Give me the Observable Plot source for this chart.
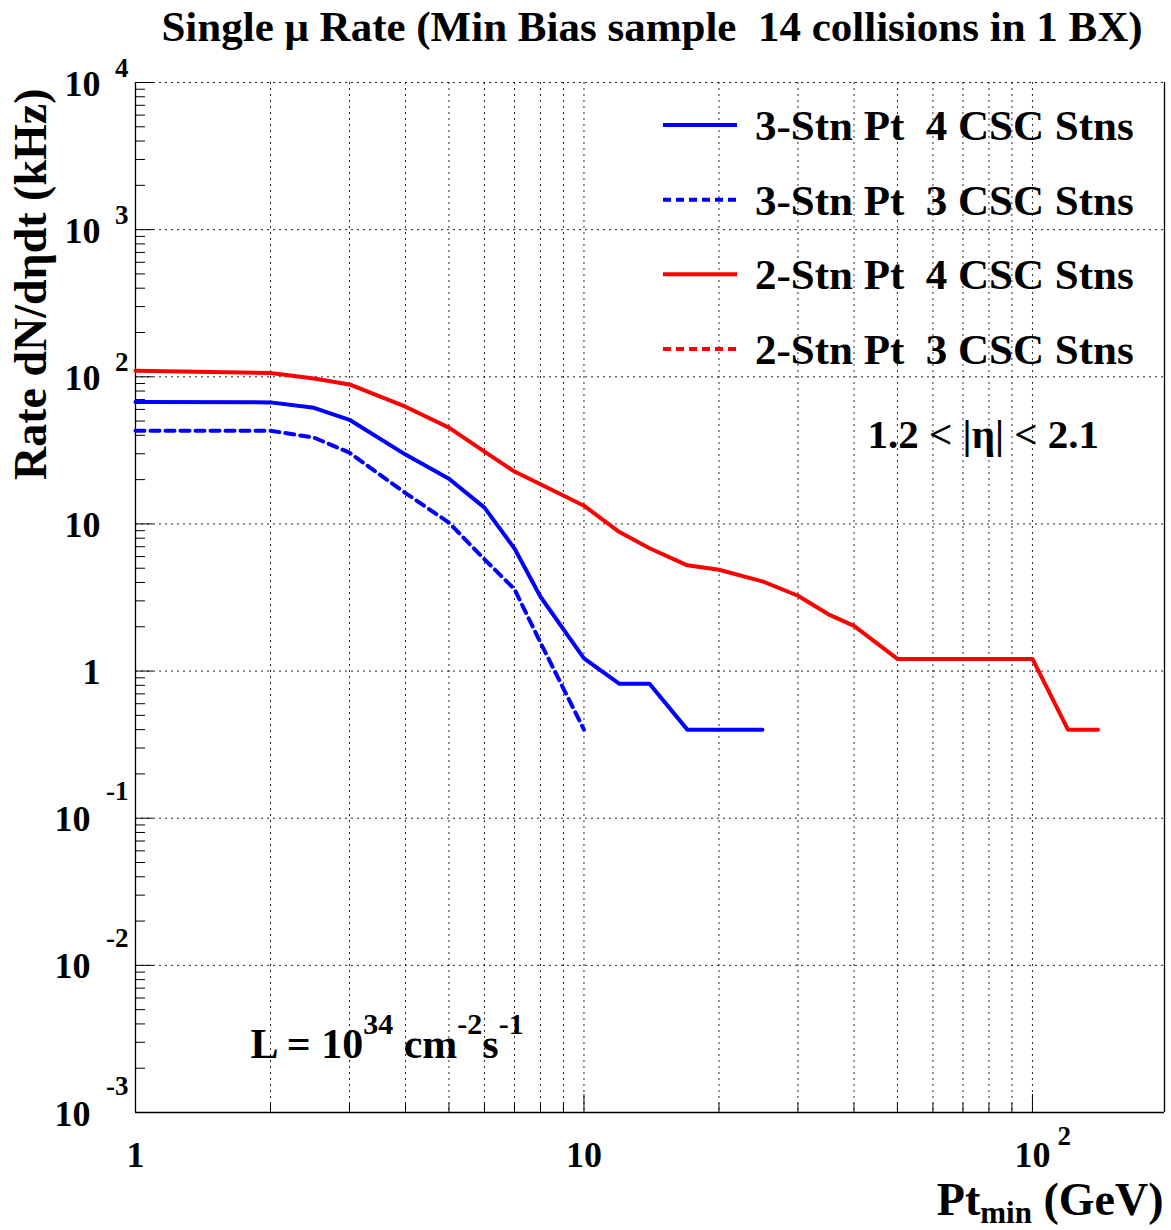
<!DOCTYPE html>
<html>
<head>
<meta charset="utf-8">
<script src="https://cdn.jsdelivr.net/npm/d3@7"></script>
<script src="https://cdn.jsdelivr.net/npm/@observablehq/plot@0.6"></script>
<style>
  body { margin: 0; background: #fff; }
  #chart { width: 1171px; height: 1230px; }
</style>
</head>
<body>
<div id="chart"></div>
<script>
// ---------------- data ----------------
const ptBlue4   = [1, 2, 2.5, 3, 4, 5, 6, 7, 8, 10, 12, 14, 17, 25];
const rateBlue4 = [67.5, 67, 61.5, 51, 29.6, 20.3, 12.9, 6.8, 3.2, 1.22, 0.82, 0.82, 0.40, 0.40];

const ptBlue3   = [1, 2, 2.5, 3, 4, 5, 6, 7, 8, 10];
const rateBlue3 = [43, 43, 38.6, 30.5, 16.2, 10.2, 5.75, 3.6, 1.56, 0.40];

const ptRed4    = [1, 2, 2.5, 3, 4, 5, 6, 7, 8, 10, 12, 14, 17, 20, 25, 30, 35, 40, 50, 100, 120, 140];
const rateRed4  = [110, 106, 97.5, 88.7, 62.6, 45.1, 31, 22.7, 18.6, 13.3, 8.8, 6.84, 5.23, 4.88, 4.07, 3.25, 2.44, 2.03, 1.21, 1.21, 0.40, 0.40];

const seriesNames = ["3-Stn Pt  4 CSC Stns", "3-Stn Pt  3 CSC Stns", "2-Stn Pt  4 CSC Stns", "2-Stn Pt  3 CSC Stns"];
const seriesColors = ["#0000ff", "#0000ff", "#ff0000", "#ff0000"];
const seriesDotted = [false, true, false, true];

const xDomain = [1, 197];
const yDomain = [1e-3, 1e4];

const xGrid = [2, 3, 4, 5, 6, 7, 8, 9, 10, 20, 30, 40, 50, 60, 70, 80, 90, 100];
const xMajorTicks = [1, 10, 100];
const xMinorTicks = [2, 3, 4, 5, 6, 7, 8, 9, 20, 30, 40, 50, 60, 70, 80, 90];
const yMajorTicks = [1e-3, 1e-2, 1e-1, 1, 10, 100, 1e3, 1e4];
const yGrid = [1e-2, 1e-1, 1, 10, 100, 1e3, 1e4];
const yMinorTicks = [];
for (const d of [1e-3, 1e-2, 1e-1, 1, 10, 100, 1e3]) for (const m of [2, 3, 4, 5, 6, 7, 8, 9]) yMinorTicks.push(d * m);

const xTickLabels = [
  {v: 1, base: "1", exp: ""},
  {v: 10, base: "10", exp: ""},
  {v: 100, base: "10", exp: "2"}
];
const yTickLabels = [
  {v: 1e4, base: "10", exp: "4"},
  {v: 1e3, base: "10", exp: "3"},
  {v: 1e2, base: "10", exp: "2"},
  {v: 10, base: "10", exp: ""},
  {v: 1, base: "1", exp: ""},
  {v: 1e-1, base: "10", exp: "-1"},
  {v: 1e-2, base: "10", exp: "-2"},
  {v: 1e-3, base: "10", exp: "-3"}
];

const titleText = "Single \u03bc Rate (Min Bias sample  14 collisions in 1 BX)";
const yTitle = "Rate dN/d\u03b7dt (kHz)";
const xTitle = "Pt_{min} (GeV)";
const etaText = "1.2 < |\u03b7| < 2.1";
const lumiText = "L = 10^{34} cm^{-2}s^{-1}";

// ---------------- layout ----------------
const W = 1171, H = 1230, mL = 135, mR = 7, mT = 82, mB = 118;
const plotW = W - mL - mR, plotH = H - mT - mB;
const FONT = "'Liberation Serif', 'Times New Roman', serif";

const toRows = (xs, ys) => xs.map((x, i) => ({pt: x, rate: ys[i]}));
const gridStyle = {stroke: "#000", strokeWidth: 1, strokeDasharray: "2,4", strokeOpacity: 0.85};
const tf = {fontFamily: FONT, fontWeight: "bold", fill: "#000", lineAnchor: "middle"};

const posExp = yTickLabels.filter(d => d.exp && d.exp[0] !== "-");
const negExp = yTickLabels.filter(d => d.exp && d.exp[0] === "-");
const noExp = yTickLabels.filter(d => !d.exp);

const chart = Plot.plot({
  width: W, height: H,
  marginLeft: mL, marginRight: mR, marginTop: mT, marginBottom: mB,
  style: {fontFamily: FONT, background: "#fff", overflow: "visible"},
  x: {type: "log", domain: xDomain, axis: null},
  y: {type: "log", domain: yDomain, axis: null},
  marks: [
    // grid
    Plot.ruleX(xGrid, {...gridStyle}),
    Plot.ruleY(yGrid, {...gridStyle}),
    // ticks (inside)
    Plot.ruleY(yMinorTicks, {stroke: "#000", strokeWidth: 1, insetRight: plotW - 10}),
    Plot.ruleY(yMajorTicks, {stroke: "#000", strokeWidth: 1, insetRight: plotW - 18}),
    Plot.ruleX(xMinorTicks, {stroke: "#000", strokeWidth: 1, insetTop: plotH - 9}),
    Plot.ruleX(xMajorTicks, {stroke: "#000", strokeWidth: 1, insetTop: plotH - 18}),
    // frame (left, right, bottom solid)
    Plot.ruleX(xDomain, {stroke: "#000", strokeWidth: 1.3}),
    Plot.ruleY([yDomain[0]], {stroke: "#000", strokeWidth: 1.3}),
    // data lines
    Plot.line(toRows(ptBlue3, rateBlue3), {x: "pt", y: "rate", stroke: seriesColors[1], strokeWidth: 4, strokeDasharray: "9,6", strokeLinejoin: "round"}),
    Plot.line(toRows(ptBlue4, rateBlue4), {x: "pt", y: "rate", stroke: seriesColors[0], strokeWidth: 4, strokeLinejoin: "round"}),
    Plot.line(toRows(ptRed4, rateRed4), {x: "pt", y: "rate", stroke: seriesColors[2], strokeWidth: 4, strokeLinejoin: "round"}),
    // y tick labels
    Plot.text(posExp, {...tf, y: "v", text: "base", frameAnchor: "left", textAnchor: "end", dx: -35, dy: 1.5, fontSize: 36}),
    Plot.text(posExp, {...tf, y: "v", text: "exp", frameAnchor: "left", textAnchor: "end", dx: -7, dy: -14.6, fontSize: 27}),
    Plot.text(negExp, {...tf, y: "v", text: "base", frameAnchor: "left", textAnchor: "end", dx: -45, dy: 1.5, fontSize: 36}),
    Plot.text(negExp, {...tf, y: "v", text: "exp", frameAnchor: "left", textAnchor: "end", dx: -7, dy: -26.6, fontSize: 27}),
    Plot.text(noExp, {...tf, y: "v", text: "base", frameAnchor: "left", textAnchor: "end", dx: -35, dy: 1.5, fontSize: 36}),
    // x tick labels
    Plot.text(xTickLabels, {...tf, x: "v", text: "base", frameAnchor: "bottom", textAnchor: "middle", dy: 42.5, fontSize: 36}),
    Plot.text(xTickLabels.filter(d => d.exp), {...tf, x: "v", text: "exp", frameAnchor: "bottom", textAnchor: "start", dx: 25, dy: 23.4, fontSize: 27}),
    // titles
    Plot.text([titleText], {...tf, text: d => d, frameAnchor: "top", dx: 2, dy: 40 - mT - 0.32 * 43, fontSize: 43}),
    Plot.text([yTitle], {...tf, text: d => d, frameAnchor: "top-left", rotate: -90, textAnchor: "end", dx: 31 - mL, dy: 6, fontSize: 46}),
    Plot.text([xTitle], {...tf, text: d => d, frameAnchor: "bottom-right", textAnchor: "end", dx: -1, dy: 1214 - (H - mB) - 0.32 * 46, fontSize: 46}),
    // annotations
    Plot.text([etaText], {...tf, text: d => d, frameAnchor: "top-left", textAnchor: "start", dx: 867 - mL, dy: 447 - mT - 0.32 * 41, fontSize: 41}),
    Plot.text([lumiText], {...tf, text: d => d, frameAnchor: "bottom-left", textAnchor: "start", dx: 250 - mL, dy: 1057 - (H - mB) - 0.32 * 42, fontSize: 42})
  ]
});

document.getElementById("chart").appendChild(chart);

// ---------------- rich text (sub/superscripts) ----------------
const NS = "http://www.w3.org/2000/svg";
function richify(el, small, supShift, subShift) {
  const s = el.textContent;
  const parts = [];
  let i = 0, buf = "";
  while (i < s.length) {
    if ((s[i] === "^" || s[i] === "_") && s[i + 1] === "{") {
      if (buf) parts.push({t: buf, k: "n"});
      buf = "";
      const k = s[i] === "^" ? "sup" : "sub";
      const j = s.indexOf("}", i);
      parts.push({t: s.slice(i + 2, j), k});
      i = j + 1;
    } else { buf += s[i]; i++; }
  }
  if (buf) parts.push({t: buf, k: "n"});
  while (el.firstChild) el.removeChild(el.firstChild);
  let shift = 0;
  for (const p of parts) {
    const ts = document.createElementNS(NS, "tspan");
    const target = p.k === "sup" ? -supShift : p.k === "sub" ? subShift : 0;
    if (target - shift !== 0) ts.setAttribute("dy", target - shift);
    shift = target;
    if (p.k !== "n") ts.setAttribute("font-size", small);
    ts.textContent = p.t;
    el.appendChild(ts);
  }
}
d3.select(chart).selectAll("text").each(function() {
  const s = this.textContent;
  if (s === xTitle) richify(this, 31, 0, 8);
  else if (s === lumiText) richify(this, 30, 24, 0);
});

// ---------------- legend ----------------
const leg = d3.select(chart).append("g").attr("class", "legend")
  .attr("text-anchor", "start");
const rowY = [125, 199.7, 274.3, 349];
seriesNames.forEach((name, i) => {
  leg.append("line")
    .attr("x1", 663).attr("x2", 737).attr("y1", rowY[i]).attr("y2", rowY[i])
    .attr("stroke", seriesColors[i]).attr("stroke-width", 4)
    .attr("stroke-dasharray", seriesDotted[i] ? "8,5" : null);
  leg.append("text")
    .attr("x", 755).attr("y", rowY[i] + 15)
    .attr("text-anchor", "start")
    .style("font-family", FONT).style("font-weight", "bold").style("font-size", "43px")
    .style("white-space", "pre")
    .attr("fill", "#000")
    .text(name);
});
</script>
</body>
</html>
